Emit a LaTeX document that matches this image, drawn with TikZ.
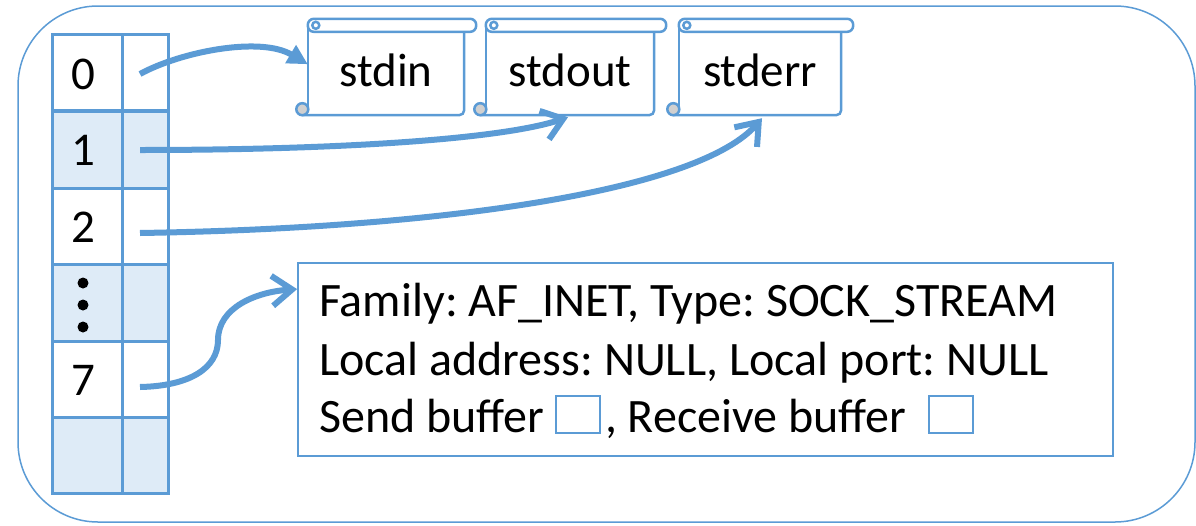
\documentclass[tikz,border=0pt]{standalone}
\usepackage{fontspec}
\setmainfont{Carlito}
\usetikzlibrary{arrows.meta,calc}
\definecolor{accent}{HTML}{5B9BD5}
\definecolor{cellfill}{HTML}{DEEBF7}
\definecolor{curlfill}{HTML}{D0D0D0}
\frenchspacing

% small empty buffer square set inline with the text
\newcommand\bufbox{{\setlength\fboxsep{0pt}\setlength\fboxrule{2pt}%
  \fcolorbox{accent}{white}{\rule{0pt}{35pt}\hspace{42pt}}}}

% scroll outline around a named node: top roll, curls, body edges
\newcommand\scrollaround[1]{%
  \draw[scrollline,rounded corners=6pt] ($(#1.north west)+(0,-6.5)$) rectangle ($(#1.north east)+(12,6.5)$);
  \draw[scrollline] ($(#1.north west)+(8,0)$) circle (3.5);
  \draw[scrollline] (#1.north west) -- ($(#1.south west)+(0,-6)$);
  \draw[scrollline,rounded corners=5pt] ($(#1.south west)+(-6,0)$) -- (#1.south east) -- ($(#1.north east)+(0,6.5)$);
  \draw[scrollline,fill=curlfill] ($(#1.south west)+(-5.5,-6)$) circle (6);
}

\tikzset{
  frame/.style={draw=accent,line width=1.5pt,rounded corners=80pt},
  grid/.style={draw=accent,line width=3pt},
  scrollline/.style={draw=accent,line width=2.5pt},
  scrollbody/.style={minimum height=89.5pt,inner sep=0pt},
  label/.style={font=\fontsize{47}{56}\selectfont,inner sep=0pt},
  socktext/.style={font=\fontsize{48}{58}\selectfont,inner sep=0pt,anchor=base west},
  sockbox/.style={draw=accent,line width=1.8pt,minimum width=815pt,minimum height=193pt,inner sep=0pt},
  conn/.style={draw=accent,line width=6pt},
  barb/.style={conn,-{Straight Barb[length=20pt,width=30pt]}},
  wedge/.style={conn,-{Triangle[length=20pt,width=20pt]}},
}

\begin{document}
\begin{tikzpicture}[x=1pt,y=-1pt]
\useasboundingbox (0,0) rectangle (1196,525);

% outer frame
\draw[frame] (18,6) rectangle (1195,522);

% descriptor table
\foreach \top/\bot in {111/188,264/341,417/493}
  \fill[cellfill] (52,\top) rectangle (168,\bot);
\draw[grid] (52,34) rectangle (168,493);
\draw[grid] (122,34) -- (122,493);
\draw[grid,line width=4pt] (52,111) -- (168,111);
\foreach \y in {188,264,341,417}
  \draw[grid] (52,\y) -- (168,\y);

\node[label] (d0) at (83,74) {0};
\node[label] (d1) at (83,150) {1};
\node[label] (d2) at (83,227) {2};
\foreach \y in {283,305,327} \fill (83,\y) circle (5.5);
\node[label] (d7) at (83,380) {7};

\coordinate (p0) at (140,74);
\coordinate (p1) at (140,150);
\coordinate (p2) at (140,233);
\coordinate (p7) at (140,387);

% standard streams
\node[label,scrollbody,minimum width=156pt] (stdin) at (386,70.25) {stdin};
\node[label,scrollbody,minimum width=168pt] (stdout) at (570,70.25) {stdout};
\node[label,scrollbody,minimum width=162pt] (stderr) at (760,70.25) {stderr};
\scrollaround{stdin}
\scrollaround{stdout}
\scrollaround{stderr}

% socket structure
\node[sockbox] (sock) at (705.5,359.5) {};
\node[socktext] (s1) at (319,316) {Family: AF\_INET, Type: SOCK\_STREAM};
\node[socktext] (s2) at (319,375) {Local address: NULL, Local port: NULL};
\node[socktext] (s3) at (319,432) {Send buffer \bufbox\hspace{4pt}, Receive buffer\hspace{22pt}\bufbox};

% connectors
\draw[wedge] (p0) .. controls (180,52) and (260,36) .. ([yshift=6pt]stdin.west);
\draw[barb] (p1) .. controls (330,150) and (500,140) .. ([xshift=-2pt,yshift=-2pt]stdout.south);
\draw[barb] (p2) .. controls (450,228) and (700,190) .. ([xshift=2pt,yshift=-3pt]stderr.south);
\draw[barb] (p7) .. controls (190,386) and (218,368) .. (218,340)
  .. controls (218,308) and (255,292) .. ([yshift=-27pt]sock.north west);
\end{tikzpicture}
\end{document}
